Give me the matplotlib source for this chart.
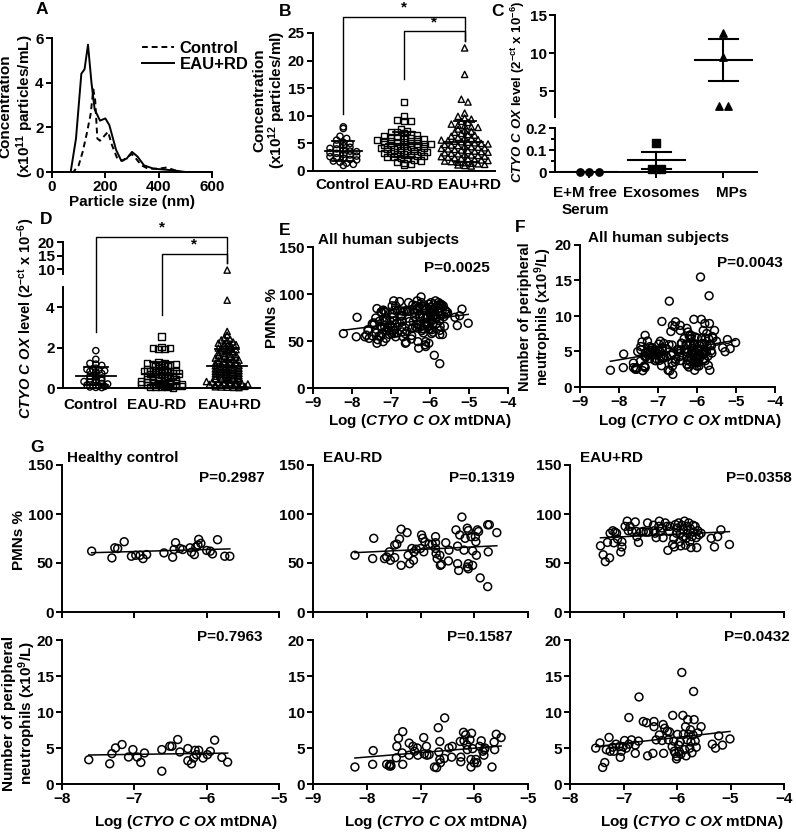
import matplotlib
matplotlib.use('Agg')
import matplotlib.pyplot as plt
import numpy as np

plt.rcParams['font.family'] = 'Liberation Sans'
plt.rcParams['font.weight'] = 'bold'
plt.rcParams['axes.labelweight'] = 'bold'
plt.rcParams['font.size'] = 11
plt.rcParams['mathtext.fontset'] = 'custom'
plt.rcParams['mathtext.rm'] = 'Liberation Sans:bold'
plt.rcParams['mathtext.it'] = 'Liberation Sans:italic:bold'
plt.rcParams['mathtext.bf'] = 'Liberation Sans:bold'
plt.rcParams['mathtext.default'] = 'rm'

# ---------------- data ----------------
# A: particle size distribution
a_size_ctrl = [0, 80, 100, 115, 130, 145, 155, 162, 170, 180, 195, 210, 225, 245, 265, 285, 300, 315, 335, 360, 400, 430, 455, 480, 600]
a_ctrl = [0, 0, 0.3, 0.9, 1.7, 2.6, 3.7, 3.2, 1.5, 1.4, 1.6, 1.8, 1.2, 0.6, 0.5, 0.7, 0.8, 0.6, 0.3, 0.15, 0.15, 0.2, 0.1, 0.0, 0]
a_size_rd = [0, 70, 90, 110, 122, 135, 148, 160, 180, 200, 215, 240, 260, 280, 300, 320, 345, 380, 430, 470, 500, 600]
a_rd = [0, 0, 1.5, 4.4, 4.6, 5.7, 4.0, 2.8, 2.3, 2.4, 2.1, 1.0, 0.5, 0.6, 0.9, 0.7, 0.3, 0.15, 0.1, 0.05, 0, 0]

# B: particle concentration (x10^12 particles/ml)
groups = ['Control', 'EAU-RD', 'EAU+RD']
b_control = [8.0, 7.7, 6.3, 5.9, 5.6, 5.2, 5.0, 4.8, 4.6, 4.3, 4.1, 4.0, 3.8, 3.6, 3.5,
             3.3, 3.2, 3.0, 2.9, 2.7, 2.6, 2.4, 2.3, 2.1, 2.0, 1.8, 1.6, 1.4, 1.2, 1.0]
b_eau_minus = [12.5, 10.0, 9.2, 9.1, 9.0, 7.5, 7.3, 7.1, 7.0, 6.9, 6.6, 6.5, 6.3, 6.2, 6.1,
               6.0, 5.9, 5.8, 5.7, 5.6, 5.5, 5.4, 5.3, 5.2, 5.1, 5.0, 4.9, 4.9, 4.8, 4.7,
               4.6, 4.5, 4.4, 4.3, 4.2, 4.1, 4.0, 3.9, 3.8, 3.7, 3.6, 3.5, 3.4, 3.3, 3.2,
               3.1, 3.0, 2.9, 2.8, 2.7, 2.6, 2.5, 2.4, 2.2, 2.0, 1.9, 1.7, 1.5, 1.3, 1.1]
b_eau_plus = [22.3, 17.5, 13.0, 12.5, 10.5, 9.9, 9.6, 9.4, 9.0, 8.8, 8.5, 8.3, 8.2, 8.0, 7.9,
              7.6, 7.4, 7.2, 7.0, 6.8, 6.6, 6.5, 6.3, 6.1, 6.0, 5.9, 5.7, 5.6, 5.5, 5.4,
              5.3, 5.2, 5.1, 5.0, 4.9, 4.8, 4.7, 4.6, 4.5, 4.4, 4.3, 4.2, 4.1, 4.0, 3.9,
              3.8, 3.7, 3.6, 3.5, 3.4, 3.3, 3.2, 3.1, 3.0, 2.9, 2.8, 2.7, 2.6, 2.5, 2.4,
              2.3, 2.2, 2.1, 2.0, 1.9, 1.8, 1.7, 1.6, 1.5, 1.4, 1.3, 1.2, 1.1, 1.0, 0.9]

# C: CTYO C OX level by fraction
c_labels = ['E+M free\nSerum', 'Exosomes', 'MPs']
c_em_free = [0.0, 0.0, 0.0]
c_exosomes = [0.133, 0.015, 0.015]
c_mps = [12.6, 9.5, 3.0, 3.1]
c_mean = [0.0, 0.053, 9.1]
c_sem = [0.0, 0.038, 2.8]

# D: CTYO C OX level by group
d_control = [1.85, 1.42, 1.22, 1.18, 1.12, 0.98, 0.92, 0.90, 0.88, 0.85, 0.82, 0.80, 0.72,
             0.62, 0.58, 0.55, 0.50, 0.45, 0.40, 0.38, 0.32, 0.30, 0.28, 0.22, 0.20, 0.15,
             0.12, 0.10, 0.08, 0.05, 0.03, 0.02]
d_eau_minus = [2.55, 2.02, 1.97, 1.95, 1.93, 1.98, 1.28, 1.22, 1.18, 1.15, 1.12, 1.10, 1.05,
               1.08, 1.12, 1.2, 1.25, 0.92, 0.90, 0.88, 0.88, 0.86, 0.85, 0.84, 0.82, 0.80,
               0.80, 0.78, 0.75, 0.72, 0.70, 0.68, 0.66, 0.62, 0.60, 0.58, 0.55, 0.52, 0.50,
               0.48, 0.46, 0.44, 0.42, 0.40, 0.38, 0.36, 0.34, 0.32, 0.30, 0.28, 0.26, 0.25,
               0.24, 0.22, 0.20, 0.18, 0.16, 0.15, 0.14, 0.12, 0.10, 0.09, 0.08, 0.06, 0.05,
               0.04, 0.03, 0.02]
d_eau_plus = [9.6, 4.35, 2.8, 2.62, 2.48, 2.42, 2.38, 2.35, 2.28, 2.22, 2.2, 2.18, 2.15,
              2.1, 2.02, 1.98, 1.95, 1.92, 1.9, 1.88, 1.85, 1.8, 1.75, 1.7, 1.68, 1.65,
              1.6, 1.55, 1.52, 1.5, 1.48, 1.45, 1.42, 1.4, 1.38, 1.35, 1.3, 1.28, 1.25,
              1.22, 1.2, 1.18, 1.15, 1.12, 1.1, 1.05, 1.02, 1.0, 0.98, 0.95, 0.92, 0.9,
              0.88, 0.85, 0.82, 0.8, 0.78, 0.75, 0.72, 0.7, 0.68, 0.65, 0.62, 0.6, 0.58,
              0.55, 0.52, 0.5, 0.48, 0.45, 0.42, 0.4, 0.38, 0.35, 0.32, 0.3, 0.28, 0.26,
              0.25, 0.24, 0.22, 0.2, 0.18, 0.16, 0.15, 0.14, 0.12, 0.1, 0.08, 0.06, 0.05,
              0.04, 0.03, 0.02]

# G: per group, log(CTYO C OX mtDNA) vs PMNs % (top) and neutrophil count (bottom)
hc_x_pmn = [-7.59, -7.31, -7.27, -7.23, -7.14, -7.04, -6.98, -6.92, -6.88, -6.83, -6.59, -6.47,
            -6.45, -6.43, -6.37, -6.33, -6.23, -6.21, -6.17, -6.15, -6.12, -6.11, -6.08, -6.00,
            -5.95, -5.92, -5.85, -5.75, -5.68]
hc_pmn = [62.1, 55.2, 65.5, 64.8, 71.7, 56.9, 57.9, 57.9, 54.5, 58.6, 60.3, 55.9, 63.8, 70.7,
          64.8, 63.8, 65.5, 61.0, 58.6, 66.2, 68.3, 74.1, 70.0, 62.8, 62.1, 59.3, 73.8, 56.9, 56.9]
hc_x_neu = [-7.63, -7.34, -7.31, -7.26, -7.17, -7.08, -7.02, -6.96, -6.91, -6.86, -6.62, -6.62,
            -6.51, -6.48, -6.40, -6.37, -6.26, -6.26, -6.21, -6.18, -6.16, -6.14, -6.11, -6.05,
            -5.99, -5.95, -5.89, -5.79, -5.71]
hc_neu = [3.37, 2.81, 4.22, 5.01, 5.48, 3.75, 4.78, 3.75, 3.0, 4.31, 1.78, 4.78, 5.25, 5.25,
          6.18, 4.45, 4.92, 3.23, 2.81, 3.61, 4.68, 4.07, 4.68, 3.61, 4.07, 4.54, 6.09, 3.70, 3.04]

rdm_x_pmn = [-8.22, -7.89, -7.87, -7.67, -7.63, -7.58, -7.56, -7.48, -7.48, -7.44, -7.39, -7.36,
             -7.36, -7.25, -7.23, -7.20, -7.16, -7.13, -7.12, -7.08, -7.00, -6.98, -6.96, -6.94,
             -6.92, -6.84, -6.78, -6.72, -6.72, -6.71, -6.72, -6.69, -6.64, -6.63, -6.61, -6.53,
             -6.48, -6.47, -6.34, -6.31, -6.31, -6.29, -6.27, -6.23, -6.19, -6.17, -6.13, -6.11,
             -6.13, -6.11, -6.11, -6.06, -6.03, -6.03, -5.98, -5.97, -5.94, -5.92, -5.96, -5.89,
             -5.75, -5.72, -5.75, -5.74, -5.58]
rdm_pmn = [57.9, 54.5, 75.2, 54.5, 56.2, 61.4, 52.8, 55.5, 68.3, 69.3, 74.5, 84.5, 47.6, 81.0,
           57.9, 49.3, 64.8, 52.8, 61.4, 64.1, 64.8, 78.6, 75.2, 61.4, 71.7, 69.3, 69.0, 76.9,
           64.8, 59.7, 70.7, 54.5, 57.9, 47.6, 48.6, 70.7, 52.1, 63.1, 83.8, 67.2, 49.3, 42.4,
           78.6, 96.9, 63.1, 75.2, 85.5, 83.1, 45.9, 49.3, 44.1, 76.9, 47.6, 62.4, 76.9, 71.7,
           83.8, 82.1, 57.9, 34.8, 89.0, 89.0, 25.9, 61.4, 81.0]
rdm_x_neu = [-8.22, -7.89, -7.88, -7.63, -7.58, -7.56, -7.55, -7.45, -7.44, -7.41, -7.33, -7.33,
             -7.34, -7.21, -7.21, -7.14, -7.11, -7.06, -7.05, -6.94, -6.93, -6.89, -6.88, -6.84,
             -6.74, -6.70, -6.67, -6.64, -6.66, -6.64, -6.63, -6.55, -6.56, -6.47, -6.42, -6.41,
             -6.26, -6.25, -6.25, -6.20, -6.19, -6.16, -6.14, -6.13, -6.08, -6.06, -6.06, -6.05,
             -6.03, -6.00, -5.97, -5.95, -5.90, -5.87, -5.84, -5.82, -5.81, -5.80, -5.67, -5.63,
             -5.62, -5.59, -5.50]
rdm_neu = [2.36, 2.73, 4.64, 2.73, 2.5, 2.73, 2.5, 3.64, 5.23, 6.36, 7.27, 2.73, 4.32, 5.68,
           4.0, 5.23, 4.55, 5.0, 4.0, 6.45, 4.18, 5.23, 4.0, 4.09, 2.36, 2.27, 7.82, 5.91, 4.45,
           3.41, 2.95, 9.18, 3.55, 5.0, 3.73, 5.23, 5.91, 3.73, 3.09, 7.18, 6.0, 6.82, 5.45, 4.77,
           6.14, 3.41, 2.36, 7.05, 4.91, 2.95, 3.41, 2.95, 5.23, 6.0, 4.55, 4.0, 4.77, 5.0, 2.36,
           5.82, 4.77, 6.91, 6.45]

rdp_x_pmn = [-7.43, -7.38, -7.34, -7.30, -7.26, -7.25, -7.20, -7.18, -7.16, -7.13, -7.11, -7.03,
             -7.03, -7.05, -6.97, -6.93, -6.91, -6.88, -6.84, -6.78, -6.76, -6.75, -6.72, -6.68,
             -6.63, -6.58, -6.55, -6.53, -6.44, -6.43, -6.41, -6.39, -6.34, -6.33, -6.31, -6.28,
             -6.26, -6.22, -6.19, -6.17, -6.14, -6.13, -6.08, -6.06, -6.05, -6.03, -6.01, -5.99,
             -5.97, -5.95, -5.94, -5.93, -5.91, -5.89, -5.88, -5.86, -5.84, -5.83, -5.81, -5.80,
             -5.78, -5.76, -5.75, -5.74, -5.72, -5.70, -5.69, -5.66, -5.64, -5.63, -5.61, -5.59,
             -5.55, -5.36, -5.30, -5.24, -5.18, -5.02]
rdp_pmn = [67.5, 58.4, 51.4, 71.0, 55.2, 80.4, 82.9, 70.6, 81.5, 80.4, 74.5, 71.7, 66.4, 61.2,
           87.4, 92.7, 82.9, 87.4, 82.2, 91.9, 82.2, 76.9, 71.0, 81.5, 82.2, 81.5, 90.9, 81.5,
           88.5, 82.9, 80.4, 75.9, 87.4, 92.7, 82.2, 85.7, 75.9, 90.9, 87.4, 62.9, 82.2, 87.4,
           68.9, 75.2, 66.4, 89.2, 80.4, 85.7, 90.9, 71.7, 80.4, 67.5, 88.5, 76.9, 83.9, 92.7,
           68.2, 75.2, 87.4, 80.4, 90.9, 71.7, 85.0, 65.7, 76.9, 88.5, 81.5, 87.4, 75.9, 65.7,
           82.9, 78.7, 80.4, 75.2, 66.4, 76.9, 83.9, 68.9]
rdp_x_neu = [-7.52, -7.44, -7.39, -7.35, -7.32, -7.27, -7.25, -7.20, -7.18, -7.14, -7.08, -7.06,
             -7.04, -7.01, -6.98, -6.95, -6.90, -6.90, -6.85, -6.78, -6.78, -6.72, -6.71, -6.63,
             -6.57, -6.55, -6.45, -6.43, -6.43, -6.39, -6.33, -6.28, -6.26, -6.25, -6.23, -6.18,
             -6.16, -6.14, -6.09, -6.08, -6.06, -6.05, -6.03, -6.01, -6.00, -5.99, -5.97, -5.96,
             -5.94, -5.93, -5.91, -5.89, -5.88, -5.86, -5.84, -5.83, -5.81, -5.80, -5.78, -5.76,
             -5.75, -5.74, -5.72, -5.70, -5.69, -5.68, -5.66, -5.64, -5.61, -5.55, -5.34, -5.28,
             -5.22, -5.15, -5.01]
rdp_neu = [4.98, 5.70, 2.30, 2.98, 4.77, 6.47, 4.55, 5.11, 4.55, 5.53, 5.19, 3.70, 4.55, 5.19,
           6.04, 4.98, 5.53, 9.23, 6.13, 5.40, 4.26, 5.96, 12.09, 8.68, 8.51, 3.91, 4.26, 8.68,
           7.96, 6.13, 6.81, 6.04, 8.26, 4.26, 7.74, 7.32, 6.13, 7.23, 5.19, 9.53, 5.96, 4.55,
           4.26, 3.49, 3.83, 6.89, 5.40, 4.55, 5.83, 4.13, 15.49, 9.53, 6.89, 4.77, 7.96, 3.91,
           6.13, 8.94, 6.89, 4.98, 7.53, 5.83, 4.34, 6.81, 12.85, 8.94, 5.96, 5.11, 7.11, 7.96,
           5.53, 4.98, 6.68, 5.40, 6.26]

g_titles = ['Healthy control', 'EAU-RD', 'EAU+RD']
g_p_pmn = ['P=0.2987', 'P=0.1319', 'P=0.0358']
g_p_neu = ['P=0.7963', 'P=0.1587', 'P=0.0432']
e_p = 'P=0.0025'
f_p = 'P=0.0043'

# ---------------- layout helpers ----------------
W, H = 796, 838
fig = plt.figure(figsize=(W / 100, H / 100), dpi=100)
FS = 11


def add_ax(l, t, r, b):
    ax = fig.add_axes([l / W, 1 - b / H, (r - l) / W, (b - t) / H])
    ax.spines['top'].set_visible(False)
    ax.spines['right'].set_visible(False)
    for s in ('left', 'bottom'):
        ax.spines[s].set_linewidth(1.4)
    ax.tick_params(direction='out', length=4, width=1.4, labelsize=FS, pad=2)
    ax.patch.set_alpha(0)
    return ax


def ftext(x, y, s, **kw):
    kw.setdefault('fontsize', FS)
    kw.setdefault('fontweight', 'bold')
    fig.text(x / W, 1 - y / H, s, **kw)


def swarm(vals, pos, dy, dx, maxw=0.45):
    vals = np.asarray(vals, float)
    xs = np.full(len(vals), float(pos))
    rows = np.round(vals / dy).astype(int)
    for r in np.unique(rows):
        idx = np.where(rows == r)[0]
        n = len(idx)
        step = min(dx, 2 * maxw / max(n - 1, 1))
        xs[idx] = pos + (np.arange(n) - (n - 1) / 2) * step
    return xs


def mean_sd(ax, pos, vals, wm=0.3, ws=0.18):
    m = np.mean(vals)
    s = np.std(vals, ddof=1)
    ax.plot([pos - wm, pos + wm], [m, m], color='k', lw=1.3, zorder=4)
    ax.plot([pos, pos], [max(m - s, 0), m + s], color='k', lw=1.3, zorder=4)
    ax.plot([pos - ws, pos + ws], [m + s, m + s], color='k', lw=1.3, zorder=4)
    if m - s > 0:
        ax.plot([pos - ws, pos + ws], [m - s, m - s], color='k', lw=1.3, zorder=4)


xlab_log = 'Log ($\\mathit{CTYO\\ C\\ OX}$ mtDNA)'
ylab_ctyo = '$\\mathit{CTYO\\ C\\ OX}$ level (2$^{-ct}$ x 10$^{-6}$)'
ylab_neu = 'Number of peripheral\nneutrophils (x10$^{9}$/L)'

# ---------------- A ----------------
axA = add_ax(52, 38, 212, 172)
axA.plot(a_size_ctrl, a_ctrl, 'k--', lw=1.4, dashes=(3, 2), label='Control')
axA.plot(a_size_rd, a_rd, 'k-', lw=1.4, label='EAU+RD')
axA.set_xlim(0, 600)
axA.set_ylim(0, 6)
axA.set_xticks([0, 200, 400, 600])
axA.set_yticks([0, 2, 4, 6])
axA.legend(loc='upper left', bbox_to_anchor=(134 / W, 1 - 33 / H), bbox_transform=fig.transFigure,
           frameon=False, handlelength=1.9, labelspacing=0.05, fontsize=12, borderpad=0,
           handletextpad=0.35)
ftext(132, 202, 'Particle size (nm)', ha='center', va='center')
ftext(17, 106, 'Concentration\n(x10$^{11}$ particles/mL)', ha='center', va='center',
      rotation=90, linespacing=1.1)
ftext(42, 10, 'A', ha='center', va='center', fontsize=12.5)

# ---------------- B ----------------
axB = add_ax(313, 33, 495, 171)
b_data = [b_control, b_eau_minus, b_eau_plus]
b_mk = ['o', 's', '^']
for i, vals in enumerate(b_data):
    xs = swarm(vals, i, 0.75, 0.11)
    axB.scatter(xs, vals, marker=b_mk[i], s=20, facecolors='none', edgecolors='k', lw=1.0,
                clip_on=False, zorder=3)
    mean_sd(axB, i, vals)
axB.set_xlim(-0.5, 2.5)
axB.set_ylim(0, 25)
axB.set_yticks([0, 5, 10, 15, 20, 25])
axB.set_xticks(range(3))
axB.set_xticklabels([])
axB.tick_params(axis='x', length=0)
for cx, lab in zip([343, 404, 470], groups):
    ftext(cx, 185, lab, ha='center', va='center')
# significance brackets
for x0, ylo, ytop, ystar in [(0, 10.4, 27.9, 28.3), (1, 16.7, 25.3, 25.7)]:
    axB.plot([x0, x0, 2, 2], [ylo, ytop, ytop, 23.5], color='k', lw=1.0, clip_on=False)
    axB.text((x0 + 2) / 2, ystar, '*', ha='center', va='bottom', fontsize=11)
ftext(270, 100, 'Concentration\n(x10$^{12}$ particles/ml)', ha='center', va='center',
      rotation=90, linespacing=1.0)
ftext(285, 12, 'B', ha='center', va='center', fontsize=12.5)

# ---------------- C ----------------
axCu = add_ax(555, 15, 757, 117)
axCl = add_ax(555, 128, 757, 172)
axCu.spines['bottom'].set_visible(False)
axCu.set_xticks([])
axCu.set_ylim(1.6, 15)
axCu.set_yticks([5, 10, 15])
axCl.set_ylim(0, 0.2)
axCl.set_yticks([0, 0.1, 0.2])
axCl.set_yticklabels(['0', '0.1', '0.2'])
axCl.set_yticks([0.05, 0.15], minor=True)
axCl.tick_params(which='minor', length=3, width=1.4)
for ax in (axCu, axCl):
    ax.set_xlim(-0.51, 2.5)
axCl.set_xticks(range(3))
axCl.set_xticklabels([])
for cx, lab in zip([585, 661, 732], c_labels):
    ftext(cx, 186, lab, ha='center', va='top', linespacing=1.25)
c_data = [c_em_free, c_exosomes, c_mps]
c_mk = ['o', 's', '^']
for i, vals in enumerate(c_data):
    xs = swarm(vals, i, 0.01 if i < 2 else 1.0, 0.14)
    for ax in (axCu, axCl):
        ax.scatter(xs, vals, marker=c_mk[i], s=28, color='k', zorder=3, clip_on=(ax is axCu))
    target = axCu if c_mean[i] > 1 else axCl
    m, s = c_mean[i], c_sem[i]
    target.plot([i - 0.42, i + 0.42], [m, m], color='k', lw=1.5)
    if s > 0:
        target.plot([i, i], [m - s, m + s], color='k', lw=1.5)
        target.plot([i - 0.22, i + 0.22], [m + s, m + s], color='k', lw=1.5)
        target.plot([i - 0.22, i + 0.22], [m - s, m - s], color='k', lw=1.5)
ftext(518, 92, ylab_ctyo, ha='center', va='center', rotation=90, fontsize=9.5)
ftext(497, 12, 'C', ha='center', va='center', fontsize=12.5)

# ---------------- D ----------------
axDu = add_ax(63, 242, 260, 274)
axDl = add_ax(63, 287, 260, 388)
axDu.spines['bottom'].set_visible(False)
axDu.set_xticks([])
axDu.set_ylim(8.15, 20)
axDu.set_yticks([10, 15, 20])
axDl.set_ylim(0, 5)
axDl.set_yticks([0, 2, 4])
for ax in (axDu, axDl):
    ax.set_xlim(-0.5, 2.5)
axDl.set_xticks(range(3))
axDl.set_xticklabels([])
axDl.tick_params(axis='x', length=0)
for cx, lab in zip([91, 157, 230], groups):
    ftext(cx, 405, lab, ha='center', va='center')
d_data = [d_control, d_eau_minus, d_eau_plus]
for i, vals in enumerate(d_data):
    vals = np.asarray(vals)
    xs = swarm(vals, i, 0.13, 0.09)
    lo = vals <= 5
    axDl.scatter(xs[lo], vals[lo], marker=b_mk[i], s=20, facecolors='none', edgecolors='k',
                 lw=1.0, clip_on=False, zorder=3)
    axDu.scatter(xs[~lo], vals[~lo], marker=b_mk[i], s=20, facecolors='none', edgecolors='k',
                 lw=1.0, zorder=3)
    mean_sd(axDl, i, vals[lo])
# brackets (lower-axis data units, extended above the axis)
for x0, ylo, ytop, ystar in [(0, 2.77, 7.48, 7.6), (1, 3.61, 6.63, 6.75)]:
    axDl.plot([x0, x0, 2, 2], [ylo, ytop, ytop, 6.19], color='k', lw=1.0, clip_on=False)
    axDl.text((x0 + 2) / 2, ystar, '*', ha='center', va='bottom', fontsize=11)
ftext(26, 318, ylab_ctyo, ha='center', va='center', rotation=90, fontsize=10.5)
ftext(46, 220, 'D', ha='center', va='center', fontsize=12.5)


# ---------------- scatter helpers ----------------
def corr_panel(ax, x, y):
    ax.scatter(x, y, s=32, facecolors='none', edgecolors='k', lw=1.1, zorder=3, clip_on=False)
    k, b = np.polyfit(x, y, 1)
    xx = np.array([min(x), max(x)])
    ax.plot(xx, k * xx + b, color='k', lw=1.1, zorder=4)


# ---------------- E ----------------
e_x = hc_x_pmn + rdm_x_pmn + rdp_x_pmn
e_y = hc_pmn + rdm_pmn + rdp_pmn
axE = add_ax(313, 247, 508, 388)
corr_panel(axE, e_x, e_y)
axE.set_xlim(-9, -4)
axE.set_ylim(0, 150)
axE.set_yticks([0, 50, 100, 150])
axE.set_xticks(range(-9, -3))
ftext(318, 240, 'All human subjects', ha='left', va='center')
ftext(490, 268, e_p, ha='right', va='center')
ftext(420, 421, xlab_log, ha='center', va='center')
ftext(272, 318, 'PMNs %', ha='center', va='center', rotation=90)
ftext(285, 230, 'E', ha='center', va='center', fontsize=12.5)

# ---------------- F ----------------
f_x = hc_x_neu + rdm_x_neu + rdp_x_neu
f_y = hc_neu + rdm_neu + rdp_neu
axF = add_ax(580, 245, 775, 387)
corr_panel(axF, f_x, f_y)
axF.set_xlim(-9, -4)
axF.set_ylim(0, 20)
axF.set_yticks([0, 5, 10, 15, 20])
axF.set_xticks(range(-9, -3))
ftext(658, 238, 'All human subjects', ha='center', va='center')
ftext(783, 263, f_p, ha='right', va='center')
ftext(690, 421, xlab_log, ha='center', va='center')
ftext(536, 317, ylab_neu, ha='center', va='center', rotation=90, linespacing=1.0,
      fontsize=10.5)
ftext(520, 228, 'F', ha='center', va='center', fontsize=12.5)

# ---------------- G ----------------
g_cols = [(62, 279, (-8, -5)), (313, 528, (-9, -5)), (570, 784, (-8, -4))]
g_pmn = [(hc_x_pmn, hc_pmn), (rdm_x_pmn, rdm_pmn), (rdp_x_pmn, rdp_pmn)]
g_neu = [(hc_x_neu, hc_neu), (rdm_x_neu, rdm_neu), (rdp_x_neu, rdp_neu)]
g_title_x = [67, 323, 580]
g_p_right = [265, 515, 792]
for j, (l, r, xl) in enumerate(g_cols):
    ax1 = add_ax(l, 465, r, 612)
    corr_panel(ax1, *g_pmn[j])
    ax1.set_xlim(*xl)
    ax1.set_ylim(0, 150)
    ax1.set_yticks([0, 50, 100, 150])
    ax1.set_xticks(range(xl[0], xl[1] + 1))
    ax1.set_xticklabels([])
    ftext(g_title_x[j], 458, g_titles[j], ha='left', va='center')
    ftext(g_p_right[j], 478, g_p_pmn[j], ha='right', va='center')

    ax2 = add_ax(l, 640, r, 784)
    corr_panel(ax2, *g_neu[j])
    ax2.set_xlim(*xl)
    ax2.set_ylim(0, 20)
    ax2.set_yticks([0, 5, 10, 15, 20])
    ax2.set_xticks(range(xl[0], xl[1] + 1))
    ftext(g_p_right[j] - 2, 637, g_p_neu[j], ha='right', va='center')
    ftext((l + r) / 2 + 15, 822, xlab_log, ha='center', va='center')

ftext(19, 540, 'PMNs %', ha='center', va='center', rotation=90)
ftext(20, 713, ylab_neu, ha='center', va='center', rotation=90, linespacing=1.0)
ftext(37, 447, 'G', ha='center', va='center', fontsize=12.5)

fig.savefig('out.png', dpi=100)
